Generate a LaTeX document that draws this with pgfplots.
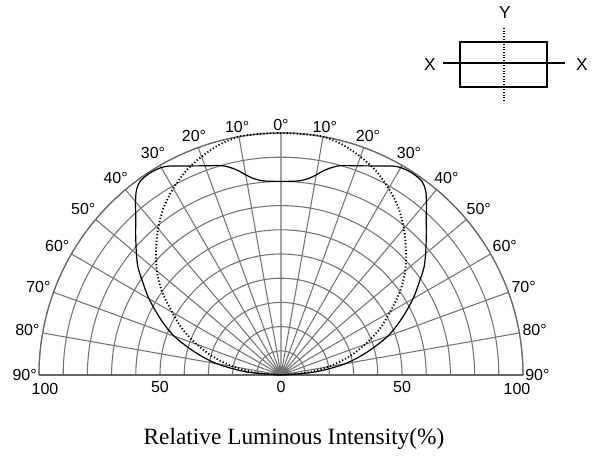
\documentclass[border=0pt]{standalone}
\usepackage{fontspec}
\setmainfont{Liberation Serif}
\setsansfont{Liberation Sans}
\usepackage{pgfplots}
\pgfplotsset{compat=1.18}
\usepgfplotslibrary{polar}

\pgfplotstableread{
phi r
0 0
5 10
10 20
15 29
20 37
25 45
30 52
35 60
40 67
45 73
50 79
55 84.5
60 89
65 93
70 96
75 98.5
80 100
85 100
90 100
95 100
100 100
105 98.5
110 96
115 93
120 89
125 84.5
130 79
135 73
140 67
145 60
150 52
155 45
160 37
165 29
170 20
175 10
180 0
}\dotteddata

\pgfplotstableread{
phi r
0 0
5 14
10 27
15 37
20 47
25 55
30 63
34 69
37 74
40 78
44 83.5
47 88
50 93.5
52 97
54 99
57 99.5
60 99
62 97.8
65 95.3
70 92
74 90
76 88.5
78 86.5
80 84
82 82
85 80.5
90 80
95 80.5
98 82
100 84
102 86.5
104 88.5
106 90
110 92
115 95.3
118 97.8
120 99
123 99.5
126 99
128 97
130 93.5
133 88
136 83.5
140 78
143 74
146 69
150 63
155 55
160 47
165 37
170 27
175 14
180 0
}\soliddata

\begin{document}
\begin{tikzpicture}
\begin{polaraxis}[
  scale only axis, width=363pt, height=363pt,
  xmin=0, xmax=180, ymin=0, ymax=100,
  xtick={0,10,...,180}, ytick={10,20,...,100},
  xticklabels={90°,80°,70°,60°,50°,40°,30°,20°,10°,0°,10°,20°,30°,40°,50°,60°,70°,80°,90°},
  yticklabels={,,,,,,,,,,,},
  grid=major,
  major grid style={draw=black!55, line width=0.8pt},
  axis line style={draw=black!60, line width=0.85pt},
  major tick length=0pt,
  xticklabel style={font=\sffamily\fontsize{12}{12}\selectfont, inner sep=1.5pt},
  clip=false,
]
\addplot[black, line width=0.9pt, smooth, tension=0.5] table[x=phi,y=r] {\soliddata};
\addplot[black, line width=1.4pt, dash pattern=on 0.9pt off 1.6pt, smooth, tension=0.5] table[x=phi,y=r] {\dotteddata};
\coordinate (O) at (axis cs:0,0);
\end{polaraxis}
\begin{scope}[shift={(O)}, x=0.75pt, y=-0.75pt]
  \pgfresetboundingbox
  \path[use as bounding box] (-281,-375) rectangle (311,80);
  \begin{scope}[font=\sffamily\fontsize{12}{12}\selectfont]
    \node at (-236,14) {100};
    \node at (-121,12) {50};
    \node at (0,12) {0};
    \node at (121,12) {50};
    \node at (236,14) {100};
  \end{scope}
  \node[font=\fontsize{17.5}{17.5}\selectfont] at (13,64) {Relative Luminous Intensity(\%)};
  \draw[line width=1.1pt] (179,-333) rectangle (266,-288);
  \draw[line width=1.0pt] (162,-312) -- (284,-312);
  \draw[line width=1.2pt, dash pattern=on 0.8pt off 1.2pt] (223,-347) -- (223,-273);
  \begin{scope}[font=\sffamily\fontsize{13}{13}\selectfont]
    \node at (224,-362) {Y};
    \node at (149,-310) {X};
    \node at (301,-310) {X};
  \end{scope}
\end{scope}
\end{tikzpicture}
\end{document}
